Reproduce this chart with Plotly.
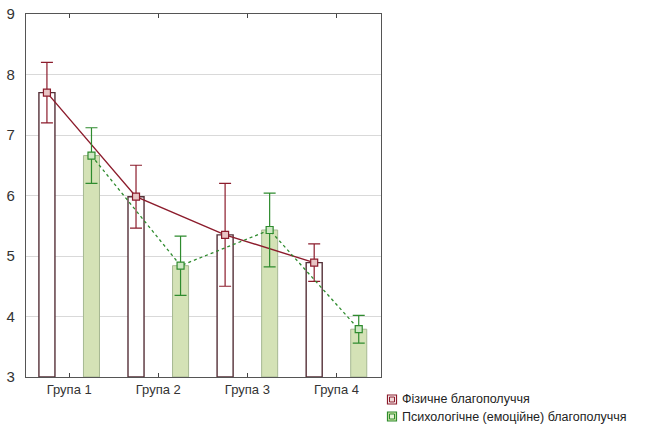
import plotly.graph_objects as go

# Group means and error half-widths
groups = ["Група 1", "Група 2", "Група 3", "Група 4"]
physical = [7.70, 5.98, 5.35, 4.89]
physical_err = [0.50, 0.52, 0.85, 0.31]
psych = [6.66, 4.84, 5.43, 3.79]
psych_err = [0.46, 0.49, 0.61, 0.23]
y_ticks = [3, 4, 5, 6, 7, 8, 9]

name_phys = "Фізичне благополуччя"
name_psy = "Психологічне (емоційне) благополуччя"

# Horizontal placement of the two bars inside each group
shift = 0.25
bar_w = 0.18
idx = list(range(len(groups)))
x_phys = [i - shift for i in idx]
x_psy = [i + shift for i in idx]

RED = "#8c1c2c"
GREEN = "#2e8b2e"

fig = go.Figure()

fig.add_trace(go.Bar(
    x=x_phys, y=[v - 3 for v in physical], base=3, width=bar_w,
    marker=dict(color="white", line=dict(color="#553038", width=1.4)),
    showlegend=False, hoverinfo="skip",
))
fig.add_trace(go.Bar(
    x=x_psy, y=[v - 3 for v in psych], base=3, width=bar_w,
    marker=dict(color="#d4e2b6", line=dict(color="#a6b892", width=1)),
    showlegend=False, hoverinfo="skip",
))

fig.add_trace(go.Scatter(
    x=x_phys, y=physical, mode="lines+markers",
    line=dict(color=RED, width=1.4),
    marker=dict(symbol="square", size=7, color="#e8c4c4",
                line=dict(color=RED, width=1.2)),
    error_y=dict(type="data", array=physical_err, color=RED,
                 thickness=1.2, width=6),
    showlegend=False,
))
fig.add_trace(go.Scatter(
    x=x_psy, y=psych, mode="lines+markers",
    line=dict(color=GREEN, width=1.3, dash="3px,3px"),
    marker=dict(symbol="square", size=7, color="#cfe8c4",
                line=dict(color=GREEN, width=1.2)),
    error_y=dict(type="data", array=psych_err, color=GREEN,
                 thickness=1.2, width=6),
    showlegend=False,
))

# Hand-drawn legend below the right edge of the plot
PX0, PX1, PY0, PY1 = 26, 381, 14, 377


def px_x(p):
    return (p - PX0) / (PX1 - PX0)


def px_y(p):
    return (PY1 - p) / (PY1 - PY0)


legend_items = [
    (name_phys, 399.5, "white", RED, "#f0d8d8"),
    (name_psy, 416.5, "#cfe6a8", GREEN, "#e6f3d6"),
]
for label, yc, fill, edge, inner in legend_items:
    xa, ya = px_x(392), px_y(yc)
    fig.add_shape(type="rect", xref="paper", yref="paper",
                  xsizemode="pixel", ysizemode="pixel",
                  xanchor=xa, yanchor=ya, x0=-4.5, x1=4.5, y0=-4.5, y1=4.5,
                  fillcolor=fill, line=dict(color=edge, width=1.2))
    fig.add_shape(type="rect", xref="paper", yref="paper",
                  xsizemode="pixel", ysizemode="pixel",
                  xanchor=xa, yanchor=ya, x0=-2.5, x1=2.5, y0=-2.5, y1=2.5,
                  fillcolor=inner, line=dict(color=edge, width=1))
    fig.add_annotation(x=px_x(400), y=ya, xref="paper", yref="paper",
                       text=label, showarrow=False, xanchor="left",
                       yanchor="middle",
                       font=dict(size=12.5, color="#222222"))

fig.update_layout(
    width=646, height=426,
    margin=dict(l=PX0, r=646 - PX1, t=PY0, b=426 - PY1, autoexpand=False),
    paper_bgcolor="white", plot_bgcolor="white",
    font=dict(family="Liberation Sans, Arial, sans-serif", color="#333333"),
    barmode="overlay",
    showlegend=False,
    xaxis=dict(
        range=[-0.485, 3.5],
        tickmode="array", tickvals=idx, ticktext=groups,
        ticks="inside", ticklen=4, tickcolor="#444",
        showline=True, linecolor="#555555", linewidth=1.3, mirror="ticks",
        showgrid=False, zeroline=False,
        tickfont=dict(size=13, color="#333333"),
    ),
    yaxis=dict(
        range=[3, 9],
        tickmode="array", tickvals=y_ticks,
        ticks="", showline=True, linecolor="#555555", linewidth=1.3,
        mirror=True,
        showgrid=True, gridcolor="#d9d9d9", gridwidth=1, zeroline=False,
        tickfont=dict(size=15, color="#333333"),
        ticklabelstandoff=7,
    ),
)

fig.write_html("out.html")
